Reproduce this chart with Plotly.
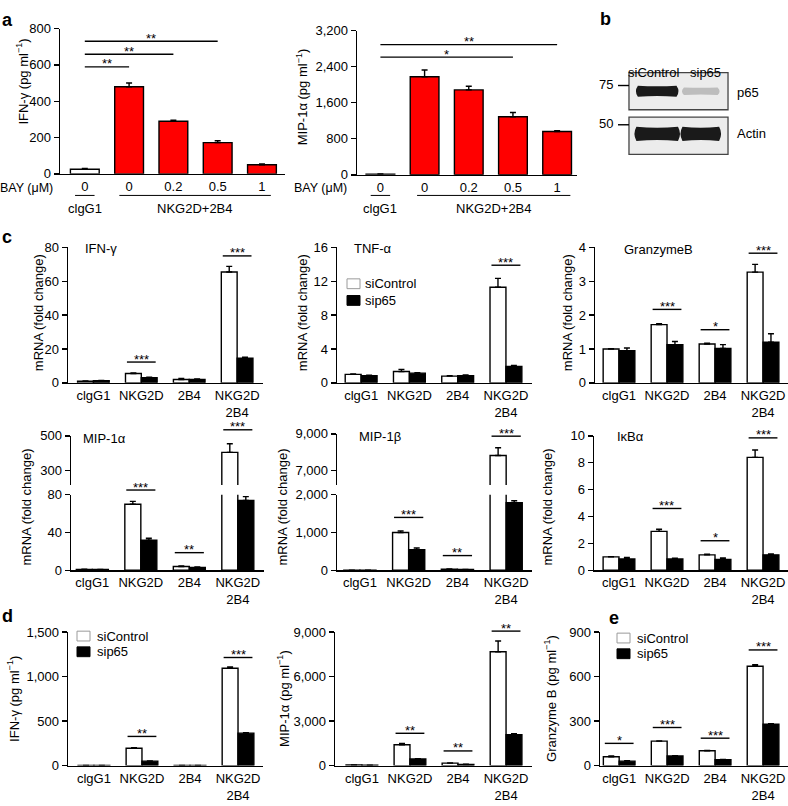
import plotly.graph_objects as go

W, H = 788, 806

# ---------------- data ----------------
bay_doses = ["0", "0", "0.2", "0.5", "1"]
a_ifng = [25, 480, 290, 172, 50]
a_ifng_err = [5, 20, 5, 10, 5]
a_mip1a = [15, 2175, 1884, 1287, 960]
a_mip1a_err = [5, 150, 80, 95, 20]
a_ifng_sig = [(0, 1, 589, "**"), (0, 2, 659, "**"), (0, 3, 730, "**")]
a_mip1a_sig = [(0, 3, 2611, "*"), (0, 4, 2887, "**")]

blot_lanes = ["siControl", "sip65"]
blot_p65 = [1.0, 0.22]
blot_actin = [1.0, 1.0]

stim = ["clgG1", "NKG2D", "2B4", "NKG2D<br>2B4"]
series = ["siControl", "sip65"]

c_ifng_ctrl = [1.0, 5.5, 2.0, 65.5]
c_ifng_ctrl_err = [0.1, 0.3, 0.6, 3.3]
c_ifng_sip = [1.3, 3.0, 2.0, 14.5]
c_ifng_sip_err = [0.2, 0.4, 0.3, 0.6]
c_ifng_sig = [(1, 12.3, "***"), (3, 75, "***")]

c_tnfa_ctrl = [1.0, 1.35, 0.8, 11.3]
c_tnfa_ctrl_err = [0.05, 0.25, 0.05, 1.05]
c_tnfa_sip = [0.85, 1.15, 0.85, 1.93]
c_tnfa_sip_err = [0.05, 0.05, 0.1, 0.12]
c_tnfa_sig = [(3, 13.9, "***")]

c_gzmb_ctrl = [1.0, 1.72, 1.15, 3.27]
c_gzmb_ctrl_err = [0.01, 0.03, 0.02, 0.23]
c_gzmb_sip = [0.95, 1.13, 1.02, 1.2]
c_gzmb_sip_err = [0.08, 0.09, 0.11, 0.25]
c_gzmb_sig = [(1, 2.17, "***"), (2, 1.57, "*"), (3, 3.83, "***")]

c_mip1a_ctrl = [1.0, 70, 4.0, 405]
c_mip1a_ctrl_err = [0.1, 3, 0.5, 50]
c_mip1a_sip = [0.8, 32, 3.0, 74]
c_mip1a_sip_err = [0.1, 2, 0.5, 4]
c_mip1a_sig_low = [(1, 85, "***"), (2, 18.7, "**")]
c_mip1a_sig_up = [(3, 535, "***")]

c_mip1b_ctrl = [1, 1000, 30, 7810]
c_mip1b_ctrl_err = [1, 45, 3, 430]
c_mip1b_sip = [1, 545, 20, 1790]
c_mip1b_sip_err = [1, 45, 3, 50]
c_mip1b_sig_low = [(1, 1400, "***"), (2, 390, "**")]
c_mip1b_sig_up = [(3, 8875, "***")]

c_ikba_ctrl = [1.0, 2.9, 1.15, 8.4]
c_ikba_ctrl_err = [0.02, 0.15, 0.05, 0.55]
c_ikba_sip = [0.85, 0.85, 0.8, 1.15]
c_ikba_sip_err = [0.1, 0.05, 0.12, 0.07]
c_ikba_sig = [(1, 4.6, "***"), (2, 2.2, "*"), (3, 9.85, "***")]

d_ifng_ctrl = [2, 195, 2, 1095]
d_ifng_ctrl_err = [1, 7, 1, 15]
d_ifng_sip = [1, 50, 1, 365]
d_ifng_sip_err = [1, 3, 1, 5]
d_ifng_sig = [(1, 328, "**"), (3, 1215, "***")]

d_mip1a_ctrl = [40, 1410, 170, 7680]
d_mip1a_ctrl_err = [5, 90, 15, 720]
d_mip1a_sip = [20, 450, 80, 2080]
d_mip1a_sip_err = [5, 20, 10, 70]
d_mip1a_sig = [(1, 2180, "**"), (2, 990, "**"), (3, 9070, "**")]

e_gzmb_ctrl = [60, 165, 100, 670]
e_gzmb_ctrl_err = [5, 2, 2, 10]
e_gzmb_sip = [30, 65, 40, 280]
e_gzmb_sip_err = [3, 2, 2, 3]
e_gzmb_sig = [(0, 150, "*"), (1, 257, "***"), (2, 185, "***"), (3, 780, "***")]

# ---------------- style ----------------
FONT = "Liberation Sans, Arial, Helvetica, sans-serif"
LW = 1.4
BW = 0.33
TICKFONT = dict(size=13, color="black", family=FONT)

fig = go.Figure()
axes = {}
shapes = []
annots = []


def axname(letter, n):
    return f"{letter}axis" + ("" if n == 1 else str(n))


def ref(letter, n):
    return letter + ("" if n == 1 else str(n))


def make_x(n, x0, x1, anchor_n, rng, tickvals=None, ticktext=None, visible=True):
    axes[axname("x", n)] = dict(
        domain=[x0 / W, x1 / W], anchor=ref("y", anchor_n), range=rng, visible=visible,
        showline=True, linecolor="black", linewidth=LW, ticks="", tickvals=tickvals,
        ticktext=ticktext, tickfont=TICKFONT, showgrid=False, zeroline=False, fixedrange=True)


def make_y(n, ytop, ybot, anchor_n, rng, tickvals=None, visible=True):
    axes[axname("y", n)] = dict(
        domain=[1 - ybot / H, 1 - ytop / H], anchor=ref("x", anchor_n), range=rng,
        visible=visible, showline=True, linecolor="black", linewidth=LW, ticks="outside",
        ticklen=5, tickwidth=LW, tickcolor="black", tickvals=tickvals, tickformat=",",
        tickfont=TICKFONT, showgrid=False, zeroline=False, fixedrange=True)


def err_bar(errs):
    return dict(type="data", symmetric=False, array=errs, arrayminus=[0] * len(errs),
                color="black", thickness=LW, width=3)


def paired_bars(xn, yn, ctrl, ctrl_err, sip, sip_err):
    pos = list(range(len(stim)))
    for name, vals, errs, fill, off in ((series[0], ctrl, ctrl_err, "white", -BW),
                                        (series[1], sip, sip_err, "black", 0.0)):
        fig.add_trace(go.Bar(
            x=pos, y=vals, width=BW, offset=off, name=name,
            xaxis=ref("x", xn), yaxis=ref("y", yn),
            marker=dict(color=fill, line=dict(color="black", width=LW)),
            error_y=err_bar(errs), showlegend=False, hoverinfo="skip"))


def sig(xn, yn, yrng, x0, x1, yval, label):
    f = (yval - yrng[0]) / (yrng[1] - yrng[0])
    yr = ref("y", yn) + " domain"
    shapes.append(dict(type="line", xref=ref("x", xn), yref=yr, x0=x0, x1=x1, y0=f, y1=f,
                       line=dict(color="black", width=LW)))
    annots.append(dict(xref=ref("x", xn), yref=yr, x=(x0 + x1) / 2, y=f, text=label,
                       showarrow=False, yanchor="middle", yshift=3,
                       font=dict(size=13, color="black", family=FONT)))


def group_sig(xn, yn, yrng, items):
    for c, yv, lab in items:
        sig(xn, yn, yrng, c - 0.3, c + 0.3, yv, lab)


def text_px(x, y, s, size=13, xanchor="center", yanchor="middle", angle=0):
    annots.append(dict(xref="paper", yref="paper", x=x / W, y=1 - y / H, text=s,
                       showarrow=False, xanchor=xanchor, yanchor=yanchor, textangle=angle,
                       font=dict(size=size, color="black", family=FONT)))


def line_px(x0, y0, x1, y1, color="black", width=LW):
    shapes.append(dict(type="line", xref="paper", yref="paper", x0=x0 / W, x1=x1 / W,
                       y0=1 - y0 / H, y1=1 - y1 / H, line=dict(color=color, width=width)))


def legend_px(xbox, ytext_list, xtext):
    for (name, fill, edge), yc in zip((("siControl", "white", "#9a9a9a"), ("sip65", "black", "black")),
                                      ytext_list):
        shapes.append(dict(type="rect", xref="paper", yref="paper", x0=xbox / W, x1=(xbox + 13) / W,
                           y0=1 - (yc + 5) / H, y1=1 - (yc - 5) / H, fillcolor=fill,
                           line=dict(color=edge, width=1)))
        text_px(xtext, yc, name, xanchor="left")


# ---------------- panel a ----------------
bay_colors = ["white", "red", "red", "red", "red"]
for n, (x0, x1, ytop, ybot, rng, ticks, vals, errs, sigs, xr) in enumerate([
        (60, 285, 22, 170, [0, 800], [0, 200, 400, 600, 800], a_ifng, a_ifng_err, a_ifng_sig, [-0.56, 4.52]),
        (357, 577, 24, 171, [0, 3200], [0, 800, 1600, 2400, 3200], a_mip1a, a_mip1a_err, a_mip1a_sig, [-0.53, 4.45]),
], start=1):
    make_x(n, x0, x1, n, xr, tickvals=list(range(5)), ticktext=bay_doses)
    make_y(n, ytop, ybot, n, rng, tickvals=ticks)
    fig.add_trace(go.Bar(x=list(range(5)), y=vals, width=0.65, xaxis=ref("x", n), yaxis=ref("y", n),
                         marker=dict(color=bay_colors, line=dict(color="black", width=LW)),
                         error_y=err_bar(errs), showlegend=False, hoverinfo="skip"))
    for i0, i1, yv, lab in sigs:
        sig(n, n, rng, i0, i1, yv, lab)

# axis titles / group labels for a
text_px(22, 76, "IFN-γ (pg ml<sup>−1</sup>)", angle=-90)
text_px(302, 92, "MIP-1α (pg ml<sup>−1</sup>)", angle=-90)
for n, bay_right, lo, hi in ((1, 55, 0.78, 4.2), (2, 349, 0.83, 4.3)):
    annots.append(dict(xref="paper", yref="paper", x=bay_right / W, y=1 - 184 / H, text="BAY (μM)",
                       showarrow=False, xanchor="right", yanchor="middle",
                       font=dict(size=12.5, color="black", family=FONT)))
    for xa, xb, lab in ((-0.22, 0.22, "clgG1"), (lo, hi, "NKG2D+2B4")):
        shapes.append(dict(type="line", xref=ref("x", n), yref="paper", x0=xa, x1=xb,
                           y0=1 - 192 / H, y1=1 - 192 / H, line=dict(color="black", width=1)))
        annots.append(dict(xref=ref("x", n), yref="paper", x=(xa + xb) / 2, y=1 - 205 / H,
                           text=lab, showarrow=False, yanchor="middle",
                           font=dict(size=13, color="black", family=FONT)))

# ---------------- panel b (western blot) ----------------
make_x(3, 627, 730, 3, [-0.04, 2.04], visible=False)
make_y(3, 65, 152, 3, [-0.05, 2.25], visible=False)
lane_centers = [0.57, 1.45]
lane_halfw = [0.39, 0.34]
for y0b, y1b in ((1.2, 2.2), (0.0, 1.0)):
    shapes.append(dict(type="rect", xref="x3", yref="y3", x0=0, x1=2, y0=y0b, y1=y1b,
                       fillcolor="#ececec", line=dict(color="#444", width=1.3), layer="below"))


def band(xc, hw, yc, hh, alpha):
    x0, x1 = xc - hw, xc + hw
    b = 0.08
    path = (f"M{x0},{yc + hh} Q{xc},{yc + hh * 0.75} {x1},{yc + hh} Q{x1 + b},{yc} {x1},{yc - hh} "
            f"Q{xc},{yc - hh * 0.75} {x0},{yc - hh} Q{x0 - b},{yc} {x0},{yc + hh} Z")
    shapes.append(dict(type="path", xref="x3", yref="y3", path=path,
                       fillcolor=f"rgba(15,15,15,{alpha:.2f})", line=dict(width=0)))


for xc, hw, a in zip(lane_centers, lane_halfw, blot_p65):
    band(xc, hw, 1.70, 0.15 * (0.6 + 0.4 * a), a * 0.95)
for xc, hw, a in zip(lane_centers, lane_halfw, blot_actin):
    band(xc, hw + 0.03, 0.55, 0.19 * a, a * 0.95)
for lane, xc in zip(blot_lanes, lane_centers):
    annots.append(dict(xref="x3", yref="paper", x=xc - 0.08 if lane == "siControl" else xc + 0.1,
                       y=1 - 57 / H, text=lane, showarrow=False,
                       font=dict(size=13, color="black", family=FONT)))
text_px(735, 87, "p65", xanchor="left")
text_px(735, 129, "Actin", xanchor="left")
text_px(615, 79, "75", xanchor="right")
text_px(615, 119, "50", xanchor="right")
line_px(618, 80, 629, 80)
line_px(618, 120, 629, 120)

# ---------------- panel c ----------------
c_ticks = list(range(4))
# row 1
for n, (x0, x1, xr, yrng, yt, data, sigs) in zip((4, 5, 6), [
    (68, 263, [-0.53, 3.54], [0, 80], [0, 20, 40, 60, 80],
     (c_ifng_ctrl, c_ifng_ctrl_err, c_ifng_sip, c_ifng_sip_err), c_ifng_sig),
    (337, 532, [-0.5, 3.54], [0, 16], [0, 4, 8, 12, 16],
     (c_tnfa_ctrl, c_tnfa_ctrl_err, c_tnfa_sip, c_tnfa_sip_err), c_tnfa_sig),
    (595, 788, [-0.5, 3.52], [0, 4], [0, 1, 2, 3, 4],
     (c_gzmb_ctrl, c_gzmb_ctrl_err, c_gzmb_sip, c_gzmb_sip_err), c_gzmb_sig),
]):
    make_x(n, x0, x1, n, xr, tickvals=c_ticks, ticktext=stim)
    make_y(n, 245, 383, n, yrng, tickvals=yt)
    paired_bars(n, n, *data)
    group_sig(n, n, yrng, sigs)

# row 2 - broken axes
make_x(7, 71, 264, 7, [-0.44, 3.54], tickvals=c_ticks, ticktext=stim)
make_y(7, 497, 574, 7, [0, 80], tickvals=[0, 40, 80])
make_y(8, 437, 487, 7, [217.5, 500], tickvals=[300, 500])
paired_bars(7, 7, c_mip1a_ctrl, c_mip1a_ctrl_err, c_mip1a_sip, c_mip1a_sip_err)
paired_bars(7, 8, c_mip1a_ctrl, c_mip1a_ctrl_err, c_mip1a_sip, c_mip1a_sip_err)
group_sig(7, 7, [0, 80], c_mip1a_sig_low)
group_sig(7, 8, [217.5, 500], c_mip1a_sig_up)

make_x(8, 337, 532, 9, [-0.47, 3.53], tickvals=c_ticks, ticktext=stim)
make_y(9, 497, 574, 8, [0, 2000], tickvals=[0, 1000, 2000])
make_y(10, 435, 487, 8, [6189, 9000], tickvals=[7000, 9000])
paired_bars(8, 9, c_mip1b_ctrl, c_mip1b_ctrl_err, c_mip1b_sip, c_mip1b_sip_err)
paired_bars(8, 10, c_mip1b_ctrl, c_mip1b_ctrl_err, c_mip1b_sip, c_mip1b_sip_err)
group_sig(8, 9, [0, 2000], c_mip1b_sig_low)
group_sig(8, 10, [6189, 9000], c_mip1b_sig_up)

make_x(9, 594, 788, 11, [-0.52, 3.52], tickvals=c_ticks, ticktext=stim)
make_y(11, 437, 574, 9, [0, 10], tickvals=[0, 2, 4, 6, 8, 10])
paired_bars(9, 11, c_ikba_ctrl, c_ikba_ctrl_err, c_ikba_sip, c_ikba_sip_err)
group_sig(9, 11, [0, 10], c_ikba_sig)

# ---------------- panels d, e ----------------
for xn, yn, x0, x1, xr, yrng, yt, data, sigs in [
    (10, 12, 68, 263, [-0.54, 3.52], [0, 1500], [0, 500, 1000, 1500],
     (d_ifng_ctrl, d_ifng_ctrl_err, d_ifng_sip, d_ifng_sip_err), d_ifng_sig),
    (11, 13, 335, 532, [-0.56, 3.54], [0, 9000], [0, 3000, 6000, 9000],
     (d_mip1a_ctrl, d_mip1a_ctrl_err, d_mip1a_sip, d_mip1a_sip_err), d_mip1a_sig),
    (12, 14, 600, 788, [-0.4, 3.52], [0, 900], [0, 300, 600, 900],
     (e_gzmb_ctrl, e_gzmb_ctrl_err, e_gzmb_sip, e_gzmb_sip_err), e_gzmb_sig),
]:
    make_x(xn, x0, x1, yn, xr, tickvals=c_ticks, ticktext=stim)
    make_y(yn, 637, 773, xn, yrng, tickvals=yt)
    paired_bars(xn, yn, *data)
    group_sig(xn, yn, yrng, sigs)

# ---------------- texts ----------------
for x, y in ((38, 312), (302, 312), (567, 312), (27, 510), (283, 510), (548, 510)):
    text_px(x, y, "mRNA (fold change)", angle=-90)
text_px(13, 705, "IFN-γ (pg ml<sup>−1</sup>)", angle=-90)
text_px(283, 705, "MIP-1α (pg ml<sup>−1</sup>)", angle=-90)
text_px(550, 705, "Granzyme B (pg ml<sup>−1</sup>)", angle=-90)

text_px(83, 246, "IFN-γ", xanchor="left")
text_px(352, 246, "TNF-α", xanchor="left")
text_px(622, 247, "GranzymeB", xanchor="left")
text_px(81, 440, "MIP-1α", xanchor="left")
text_px(357, 438, "MIP-1β", xanchor="left")
text_px(615, 438, "IκBα", xanchor="left")

legend_px(347, (282, 299), 363)
legend_px(77, (641, 657), 95)
legend_px(617, (643, 659), 635)

for lab, x, y in (("a", 0, 13), ("b", 598, 12), ("c", 0, 234), ("d", 0, 621), ("e", 607, 623)):
    text_px(x, y, f"<b>{lab}</b>", size=18, xanchor="left")

fig.update_layout(
    width=W, height=H, margin=dict(l=0, r=0, t=0, b=0),
    paper_bgcolor="white", plot_bgcolor="white",
    font=dict(family=FONT, size=13, color="black"),
    barmode="overlay", showlegend=False,
    shapes=shapes, annotations=annots, **axes)

fig.write_html("out.html", config={"displayModeBar": False, "staticPlot": True},
               post_script="document.body.style.margin='0px';document.documentElement.style.margin='0px';")
